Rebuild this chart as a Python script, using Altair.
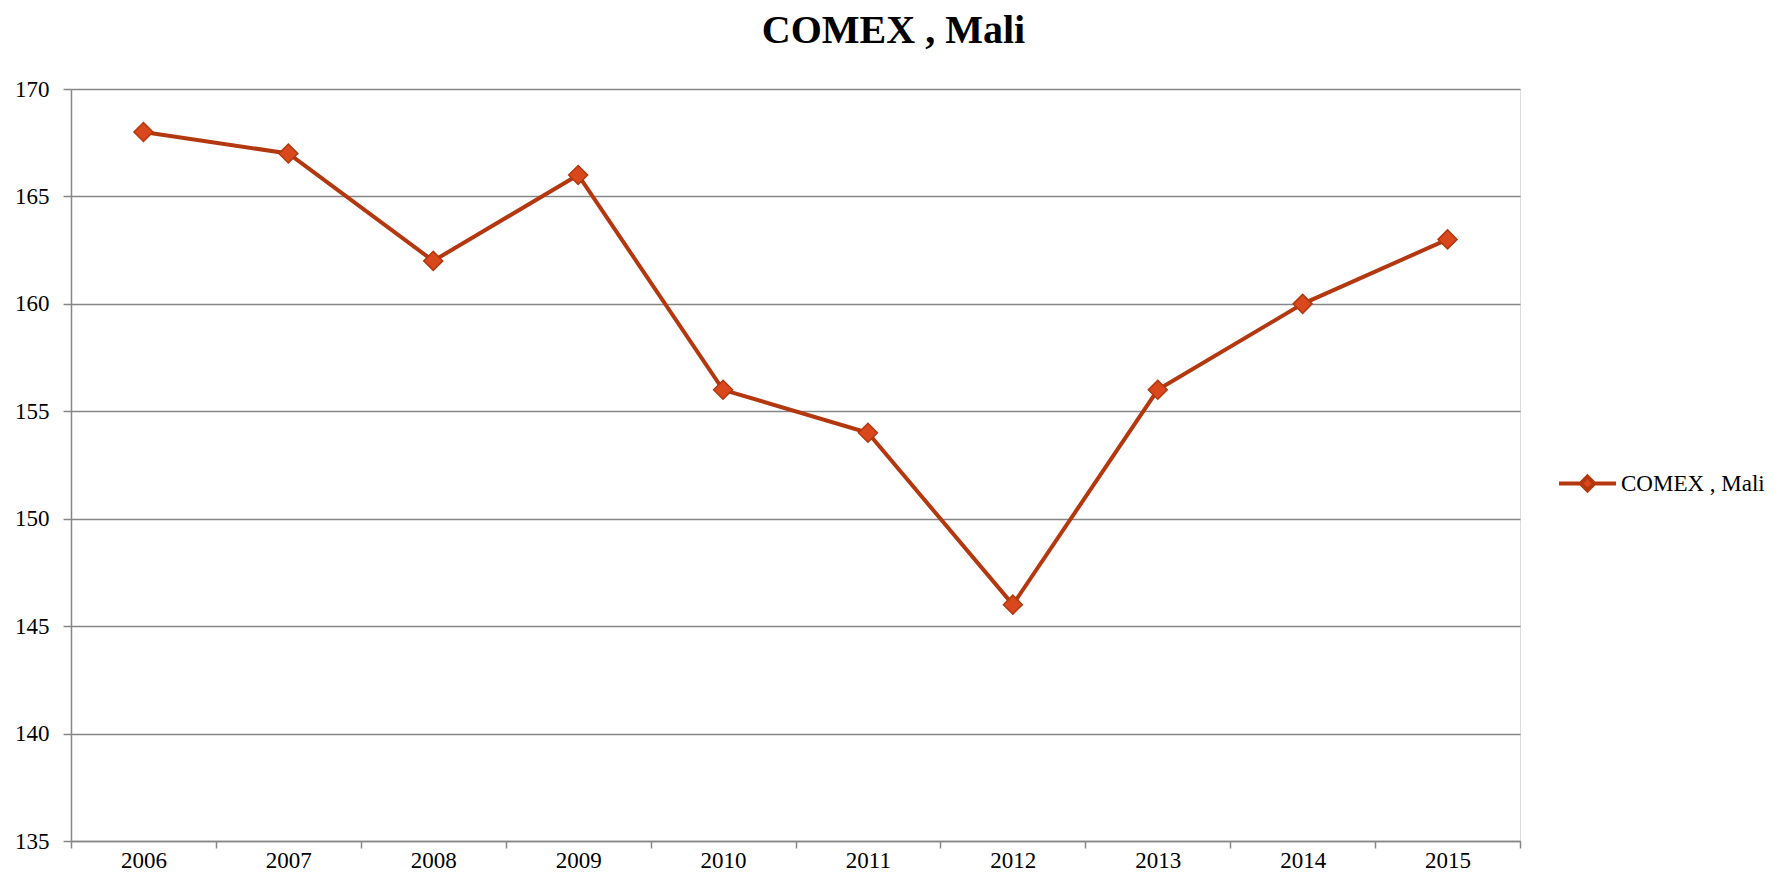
import altair as alt
import pandas as pd

years = ["2006", "2007", "2008", "2009", "2010", "2011", "2012", "2013", "2014", "2015"]
values = [168, 167, 162, 166, 156, 154, 146, 156, 160, 163]
series = ["COMEX , Mali"] * len(years)
y_ticks = [135, 140, 145, 150, 155, 160, 165, 170]

df = pd.DataFrame({"year": years, "value": values, "series": series})

LINE = "#B3380F"
FILL = "#D9481C"
FONT = "Liberation Serif"

legend_path = "M-1,0H-0.22M0.22,0H1M0,-0.24L0.24,0L0,0.24L-0.24,0Z"

base = alt.Chart(df).encode(
    x=alt.X(
        "year:O",
        title=None,
        sort=years,
        bandPosition=0.5,
        scale=alt.Scale(type="band", paddingInner=0, paddingOuter=0),
        axis=alt.Axis(
            labelAngle=0,
            tickBand="extent",
            grid=False,
            domainColor="#868686",
            domainWidth=1.5,
            tickColor="#868686",
            tickWidth=1.5,
            tickSize=7,
            labelPadding=1,
            labelFont=FONT,
            labelFontSize=23,
            labelColor="#000000",
        ),
    ),
    y=alt.Y(
        "value:Q",
        title=None,
        scale=alt.Scale(domain=[135, 170], nice=False, zero=False),
        axis=alt.Axis(
            values=y_ticks,
            grid=True,
            gridColor="#868686",
            gridWidth=1.5,
            domainColor="#868686",
            domainWidth=1.5,
            tickColor="#868686",
            tickWidth=1.5,
            tickSize=8,
            labelPadding=14,
            labelFont=FONT,
            labelFontSize=23,
            labelColor="#000000",
        ),
    ),
)

line = base.mark_line(strokeWidth=4, color=LINE).encode(
    color=alt.Color(
        "series:N",
        scale=alt.Scale(range=[LINE]),
        legend=alt.Legend(
            title=None,
            orient="none",
            legendX=1486,
            legendY=364,
            symbolType=legend_path,
            symbolSize=3249,
            symbolStrokeWidth=4,
            symbolStrokeColor=LINE,
            symbolFillColor=FILL,
            labelFont=FONT,
            labelFontSize=23,
            labelColor="#000000",
            labelOffset=3,
            labelLimit=300,
        ),
    )
)

points = base.mark_point(
    shape="diamond", filled=True, size=360, fill=FILL, stroke=LINE, strokeWidth=1.5, opacity=1
)

chart = (
    alt.layer(line, points)
    .properties(
        width=1449,
        height=752,
        title=alt.TitleParams(
            "COMEX , Mali",
            font=FONT,
            fontSize=40,
            fontWeight="bold",
            color="#000000",
            anchor="middle",
            dx=98,
            offset=27,
        ),
        autosize=alt.AutoSizeParams(type="none"),
        padding={"left": 63, "top": 81, "right": 245, "bottom": 32},
    )
    .configure_view(stroke=None)
    .configure(background="#ffffff")
)

chart.save("out.html", embed_options={"renderer": "svg", "actions": False})
